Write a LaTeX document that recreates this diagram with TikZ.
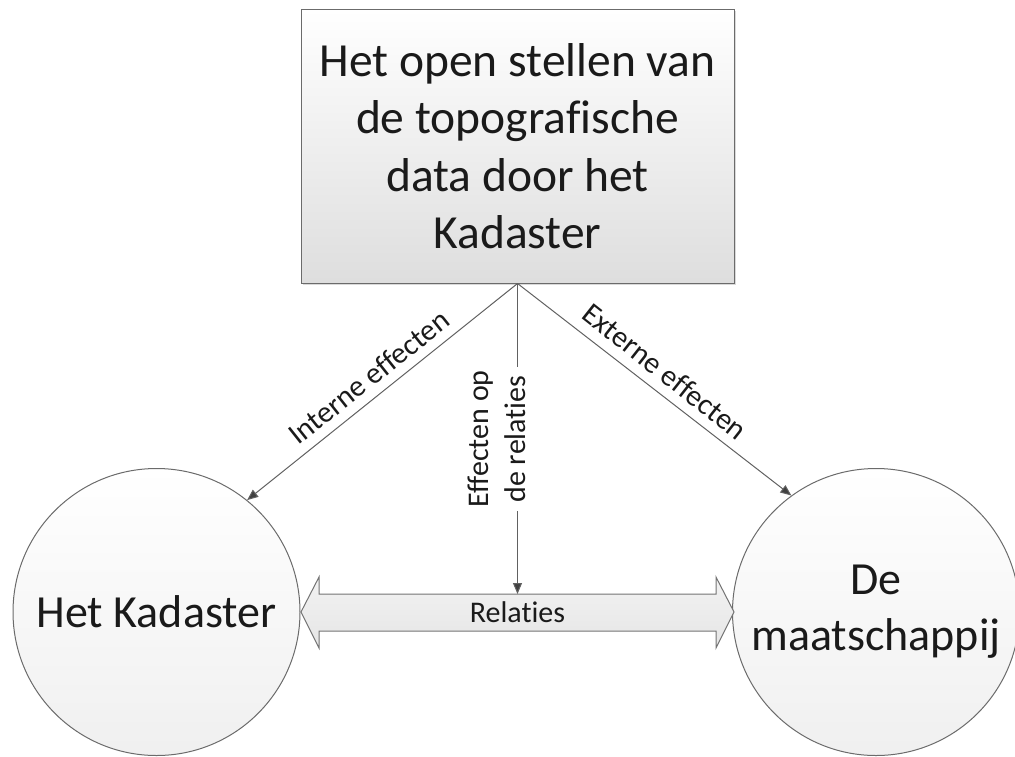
\documentclass[tikz,border=0pt]{standalone}
\usepackage{fontspec}
\setmainfont{Carlito}[Ligatures={NoCommon}]
\usetikzlibrary{arrows.meta,shadows}
\definecolor{txt}{HTML}{1A1A1A}
\begin{document}
\begin{tikzpicture}[x=1pt,y=-1pt,
  every node/.style={text=txt},
  topbox/.style={draw=black!58, line width=1pt, rectangle, minimum width=433, minimum height=274,
    top color=white, bottom color=black!13, align=center, inner sep=0pt,
    font=\fontsize{47.5}{57.5}\selectfont,
    drop shadow={shadow xshift=2pt, shadow yshift=-2pt, opacity=0.3}},
  party/.style={draw=black!58, line width=1pt, circle, minimum size=287, inner sep=0pt,
    top color=white, bottom color=black!6, align=center,
    font=\fontsize{46}{56}\selectfont},
  conn/.style={draw=black!62, line width=1pt, -{Triangle[length=11pt,width=9pt,fill=black!75]}},
  lbl/.style={font=\fontsize{30}{37}\selectfont, inner sep=1pt, align=center},
  relarrow/.style={draw=black!55, line width=1pt, top color=black!5, bottom color=black!10}
]
\useasboundingbox (0,0) rectangle (1015,756);
\clip (0,0) rectangle (1015,756);

\node[topbox] (top) at (517.5,146) {Het open stellen van\\de topografische\\data door het\\Kadaster};
\node[party] (kad) at (156.5,612) {Het Kadaster};
\node[party] (maat) at (876,612) {De\\maatschappij};

% double arrow "Relaties"
\coordinate (lt) at (301,612);
\coordinate (rt) at (734,612);
\coordinate (ratop) at (517.5,594);
\path[relarrow] (lt) -- (319,577) -- (319,594) -- (716,594) -- (716,577) -- (rt)
  -- (716,648) -- (716,631) -- (319,631) -- (319,648) -- cycle;
\node[lbl] (rel) at (517.5,612) {Relaties};

% connectors
\draw[conn] (top.south) -- (kad.51.5);
\draw[conn] (top.south) -- (maat.126.7);
\draw[conn] (top.south) -- (ratop);

% labels
\node[lbl] (lint) at (369,377) [rotate=38.5] {Interne effecten};
\node[lbl] (lext) at (665,371.5) [rotate=-38.3] {Externe effecten};
\node[lbl, fill=white, inner sep=3pt] (lrel) at (497,439) [rotate=90] {Effecten op\\de relaties};
\end{tikzpicture}
\end{document}
